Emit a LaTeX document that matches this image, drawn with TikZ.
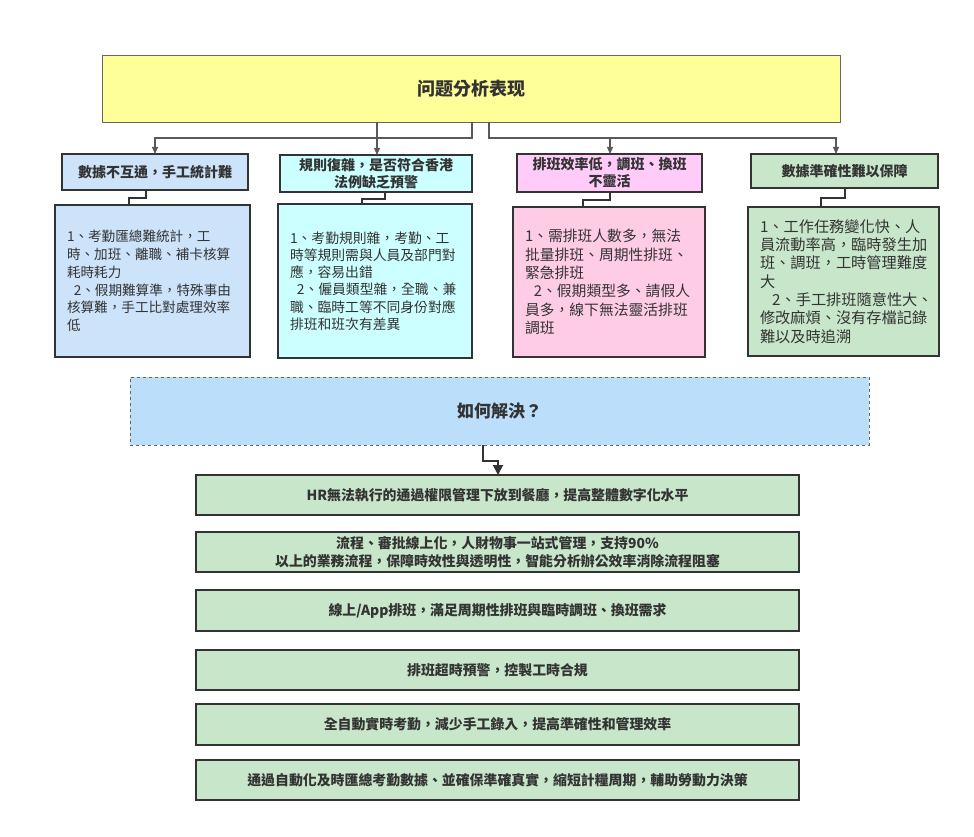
\documentclass[tikz,border=0pt]{standalone}
\usepackage{fontspec}
\setmainfont{Noto Sans CJK TC}
\usetikzlibrary{arrows.meta}
\definecolor{yel}{HTML}{FFFF99}
\definecolor{blu}{HTML}{CCE3FA}
\definecolor{cya}{HTML}{CCFFFF}
\definecolor{pnkh}{HTML}{FFCCFA}
\definecolor{pnkb}{HTML}{FFCCE6}
\definecolor{grn}{HTML}{C8E6C9}
\definecolor{dsh}{HTML}{BBDEFB}
\definecolor{txt}{HTML}{333333}
\definecolor{edge}{HTML}{333333}
\begin{document}
\begin{tikzpicture}[x=1pt,y=-1pt,
  every node/.style={outer sep=0pt, text=txt},
  hdr/.style={draw=edge, line width=1.6pt, minimum width=#1, inner sep=2pt, align=center,
    font=\fontsize{14}{17}\selectfont\bfseries},
  bodybox/.style={draw=edge, line width=1.6pt, minimum width=#1, inner sep=0pt,
    text width=#1-24pt, align=left},
  sol/.style={draw=edge, line width=1.6pt, fill=grn, minimum width=603pt, inner sep=0pt,
    align=center, font=\fontsize{13.9}{17.5}\selectfont\bfseries},
  conn/.style={draw=black!65, line width=1.1pt},
  tip/.style={-{Triangle[length=7pt,width=6pt]}},
  hb/.style={draw=edge, line width=1.8pt}
]
\useasboundingbox (0,0) rectangle (974,837);
\fill[white] (0,0) rectangle (974,837);

% top box
\node[draw=black!60, line width=0.8pt, fill=yel, minimum width=738pt, minimum height=67pt,
  font=\fontsize{18}{22}\selectfont\bfseries] (top) at (471,88.5) {问题分析表现};

% headers
\node[hdr=186pt, fill=blu, minimum height=36pt] (h1) at (155,172) {數據不互通，手工統計難};
\node[hdr=192pt, fill=cya, minimum height=37pt] (h2) at (376,173.5) {規則復雜，是否符合香港\\法例缺乏預警};
\node[hdr=185pt, fill=pnkh, minimum height=38pt] (h3) at (609.5,173) {排班效率低，調班、換班\\不靈活};
\node[hdr=187pt, fill=grn, minimum height=34pt] (h4) at (844.5,171) {數據準確性難以保障};

% bodies
\node[bodybox=195pt, fill=blu, minimum height=152pt, font=\fontsize{13.6}{17.8}\selectfont] (b1) at (152.5,281)
 {1、考勤匯總難統計，工\\時、加班、離職、補卡核算\\耗時耗力\\\hspace*{0.5em}2、假期難算準，特殊事由\\核算難，手工比對處理效率\\低};
\node[bodybox=194pt, fill=cya, minimum height=154pt, font=\fontsize{13.8}{17.2}\selectfont] (b2) at (375,281)
 {1、考勤規則雜，考勤、工\\時等規則需與人員及部門對\\應，容易出錯\\\hspace*{0.5em}2、僱員類型雜，全職、兼\\職、臨時工等不同身份對應\\排班和班次有差異};
\node[bodybox=192pt, fill=pnkb, minimum height=150pt, font=\fontsize{14.8}{18.4}\selectfont] (b3) at (609,282)
 {1、需排班人數多，無法\\批量排班、周期性排班、\\緊急排班\\\hspace*{0.6em}2、假期類型多、請假人\\員多，線下無法靈活排班\\調班};
\node[bodybox=191pt, fill=grn, minimum height=149pt, font=\fontsize{15.2}{18.3}\selectfont] (b4) at (843.5,281.5)
 {1、工作任務變化快、人\\員流動率高，臨時發生加\\班、調班，工時管理難度\\大\\\hspace*{0.8em}2、手工排班隨意性大、\\修改麻煩、沒有存檔記錄\\難以及時追溯};

% dashed box
\node[draw=black!60, dashed, line width=0.8pt, fill=dsh, minimum width=739pt, minimum height=68pt,
  font=\fontsize{17}{21}\selectfont\bfseries] (how) at (499.5,411) {如何解決？};

% solutions
\node[sol, minimum height=40pt] (g1) at (497.5,495) {HR無法執行的通過權限管理下放到餐廳，提高整體數字化水平};
\node[sol, minimum height=40pt] (g2) at (497.5,552) {流程、審批線上化，人財物事一站式管理，支持90\%\\以上的業務流程，保障時效性與透明性，智能分析辦公效率消除流程阻塞};
\node[sol, minimum height=41pt] (g3) at (497.5,610.5) {線上/App排班，滿足周期性排班與臨時調班、換班需求};
\node[sol, minimum height=40pt] (g4) at (497.5,670) {排班超時預警，控製工時合規};
\node[sol, minimum height=41pt] (g5) at (497.5,724.5) {全自動實時考勤，減少手工錄入，提高準確性和管理效率};
\node[sol, minimum height=40pt] (g6) at (497.5,780) {通過自動化及時匯總考勤數據、並確保準確真實，縮短計糧周期，輔助勞動力決策};

% connectors top -> headers
\coordinate (ta) at (472,138);
\coordinate (tb) at (489,138);
\coordinate (k1) at (155,138);
\coordinate (k3) at (610,138);
\coordinate (k4) at (836,138);
\draw[conn, tip] (top.south -| ta) -- (ta) -- (k1) -- (h1.north -| k1);
\draw[conn, tip] (top.south -| 377,0) -- (h2.north -| 377,0);
\draw[conn, tip] (top.south -| tb) -- (tb) -- (k3) -- (h3.north -| k3);
\draw[conn, tip] (tb) -- (k4) -- (h4.north -| k4);

% header -> body
\draw[hb] (h1.south -| 146,0) |- (129,198) -- (b1.north -| 129,0);
\draw[hb] (h2.south -| 385,0) |- (362,199) -- (b2.north -| 362,0);
\draw[hb] (h3.south -| 610,0) |- (583,200) -- (b3.north -| 583,0);
\draw[hb] (h4.south -| 845,0) |- (821,198) -- (b4.north -| 821,0);

% dashed -> solutions
\draw[hb, -{Triangle[length=10pt,width=10pt]}] (how.south -| 483,0) |- (498,461) -- (g1.north -| 498,0);
\end{tikzpicture}
\end{document}
